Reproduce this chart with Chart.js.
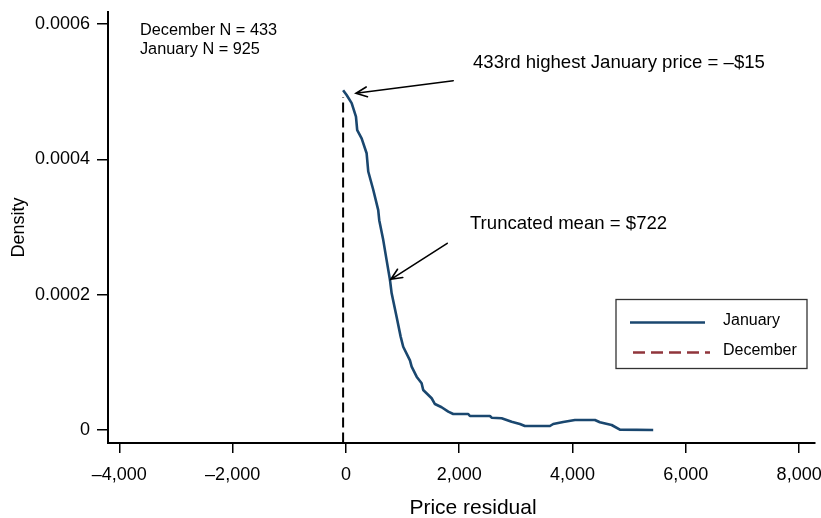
<!DOCTYPE html>
<html>
<head>
<meta charset="utf-8">
<script src="https://cdn.jsdelivr.net/npm/chart.js@4.4.1/dist/chart.umd.min.js"></script>
<style>
html,body{margin:0;padding:0;background:#fff;}
#c{display:block;}
</style>
</head>
<body>
<canvas id="c" width="821" height="518"></canvas>
<script>
// ---- data ----
const xTicks = [-4000, -2000, 0, 2000, 4000, 6000, 8000];
const xTickLabels = ['\u20134,000', '\u20132,000', '0', '2,000', '4,000', '6,000', '8,000'];
const yTicks = [0, 0.0002, 0.0004, 0.0006];
const yTickLabels = ['0', '0.0002', '0.0004', '0.0006'];

const januaryX = [-50, 12, 101, 177, 199, 277, 365, 394, 482, 570, 588, 658, 718, 777, 807, 895, 966, 1011, 1130, 1160, 1248, 1336, 1364, 1513, 1571, 1689, 1806, 1894, 2159, 2189, 2542, 2572, 2748, 2925, 3071, 3159, 3601, 3659, 3835, 4042, 4395, 4483, 4690, 4836, 5424];
const januaryY = [0.000502, 0.000495, 0.000483, 0.000463, 0.000443, 0.000431, 0.000409, 0.000382, 0.000355, 0.000325, 0.000310, 0.000281, 0.000251, 0.000222, 0.000202, 0.000167, 0.000138, 0.000123, 0.000103, 0.0000936, 0.0000788, 0.0000690, 0.0000591, 0.0000469, 0.0000384, 0.0000336, 0.0000271, 0.0000237, 0.0000237, 0.0000207, 0.0000207, 0.0000182, 0.0000173, 0.0000123, 0.0000089, 0.0000059, 0.0000059, 0.0000089, 0.0000118, 0.0000148, 0.0000148, 0.0000114, 0.0000074, 0.0000005, 0.0000000];

const decemberX = [];
const decemberY = [];

const cutoffX = [-50, -50];
const cutoffY = [-0.0000185, 0.000492];

const noteTexts = ['December N = 433', 'January N = 925', '433rd highest January price = \u2013$15', 'Truncated mean = $722'];
const noteX = [-3636, -3636, 2242, 2189];
const noteY = [0.0005904, 0.0005623, 0.0005424, 0.0003044];

const arrowFromX = [1894, 1788];
const arrowFromY = [0.0005162, 0.0002759];
const arrowToX = [177, 794];
const arrowToY = [0.0004976, 0.0002227];

// ---- helpers ----
const FONT = '"Liberation Sans", Arial, Helvetica, sans-serif';
const zip = (xs, ys) => xs.map((x, i) => ({x: x, y: ys[i]}));
const NAVY = '#1a476f';
const MAROON = '#90353b';

const annotationPlugin = {
  id: 'annotations',
  afterDatasetsDraw(chart) {
    const ctx = chart.ctx;
    const xs = chart.scales.x, ys = chart.scales.y;
    ctx.save();
    ctx.fillStyle = '#000';
    ctx.textBaseline = 'middle';
    ctx.textAlign = 'left';
    noteTexts.forEach((t, i) => {
      ctx.font = (i < 2 ? '16.3px ' : '18.6px ') + FONT;
      ctx.fillText(t, xs.getPixelForValue(noteX[i]), ys.getPixelForValue(noteY[i]));
    });
    // x axis title
    ctx.font = '21px ' + FONT;
    ctx.textAlign = 'center';
    ctx.fillText('Price residual', 473, 508);
    ctx.textAlign = 'left';

    ctx.strokeStyle = '#000';
    ctx.lineWidth = 1.6;
    ctx.lineCap = 'round';
    arrowFromX.forEach((fx, i) => {
      const x1 = xs.getPixelForValue(fx), y1 = ys.getPixelForValue(arrowFromY[i]);
      const x2 = xs.getPixelForValue(arrowToX[i]), y2 = ys.getPixelForValue(arrowToY[i]);
      const a = Math.atan2(y2 - y1, x2 - x1);
      const L = 12, w = 0.42;
      ctx.beginPath();
      ctx.moveTo(x1, y1); ctx.lineTo(x2, y2);
      ctx.moveTo(x2 - L * Math.cos(a - w), y2 - L * Math.sin(a - w));
      ctx.lineTo(x2, y2);
      ctx.lineTo(x2 - L * Math.cos(a + w), y2 - L * Math.sin(a + w));
      ctx.stroke();
    });
    // legend box
    const items = chart.data.datasets.filter(d => d.inLegend);
    const bx = 616, by = 299.5, bw = 191, bh = 69;
    ctx.lineWidth = 1.3;
    ctx.strokeStyle = '#333';
    ctx.strokeRect(bx, by, bw, bh);
    ctx.font = '16px ' + FONT;
    items.forEach((d, i) => {
      const ly = by + 23 + i * 30;
      ctx.beginPath();
      ctx.strokeStyle = d.borderColor;
      ctx.lineWidth = d.borderWidth;
      ctx.lineCap = 'butt';
      ctx.setLineDash(d.borderDash || []);
      ctx.moveTo(bx + (i ? 17 : 14), ly);
      ctx.lineTo(bx + (i ? 94 : 89), ly);
      ctx.stroke();
      ctx.setLineDash([]);
      ctx.fillStyle = '#000';
      ctx.fillText(d.label, bx + 107, ly - 1.5);
    });
    ctx.restore();
  }
};

new Chart(document.getElementById('c'), {
  type: 'scatter',
  data: {
    datasets: [
      {label: 'January', inLegend: true, data: zip(januaryX, januaryY), showLine: true, borderColor: NAVY, backgroundColor: NAVY, borderWidth: 2.6, pointRadius: 0, tension: 0, borderJoinStyle: 'round', order: 1},
      {label: 'December', inLegend: true, data: zip(decemberX, decemberY), showLine: true, borderColor: MAROON, backgroundColor: MAROON, borderWidth: 2.6, borderDash: [12, 6], pointRadius: 0},
      {label: 'cutoff', inLegend: false, data: zip(cutoffX, cutoffY), showLine: true, borderColor: '#000', borderWidth: 2, borderDash: [10, 5], pointRadius: 0, order: 2}
    ]
  },
  options: {
    responsive: false,
    animation: false,
    devicePixelRatio: 1,
    layout: {padding: {left: 0, right: 6, top: 12, bottom: 0}},
    plugins: {legend: {display: false}, tooltip: {enabled: false}},
    scales: {
      x: {
        type: 'linear',
        min: -4200,
        max: 8280,
        afterBuildTicks: s => { s.ticks = xTicks.map(v => ({value: v})); },
        afterFit: s => { s.height = 75; s.paddingLeft = 0; s.paddingRight = 0; },
        ticks: {
          autoSkip: false, maxRotation: 0, padding: 11,
          color: '#000', font: {size: 18, family: FONT},
          callback: v => { const i = xTicks.indexOf(v); return i >= 0 ? xTickLabels[i] : ''; }
        },
        grid: {drawOnChartArea: false, drawTicks: true, tickLength: 10, color: '#000', lineWidth: 1.5},
        border: {display: true, color: '#000', width: 2},
        title: {display: false}
      },
      y: {
        type: 'linear',
        min: -0.0000192,
        max: 0.0006177,
        afterBuildTicks: s => { s.ticks = yTicks.map(v => ({value: v})); },
        afterFit: s => { s.width = 108; s.paddingTop = 0; s.paddingBottom = 0; },
        ticks: {
          autoSkip: false, padding: 7,
          color: '#000', font: {size: 18, family: FONT},
          callback: v => { const i = yTicks.indexOf(v); return i >= 0 ? yTickLabels[i] : ''; }
        },
        grid: {drawOnChartArea: false, drawTicks: true, tickLength: 11, color: '#000', lineWidth: 1.5},
        border: {display: true, color: '#000', width: 2},
        title: {display: true, text: 'Density', color: '#000', font: {size: 18, family: FONT}, padding: {top: 8, bottom: 0}}
      }
    }
  },
  plugins: [annotationPlugin]
});
</script>
</body>
</html>
